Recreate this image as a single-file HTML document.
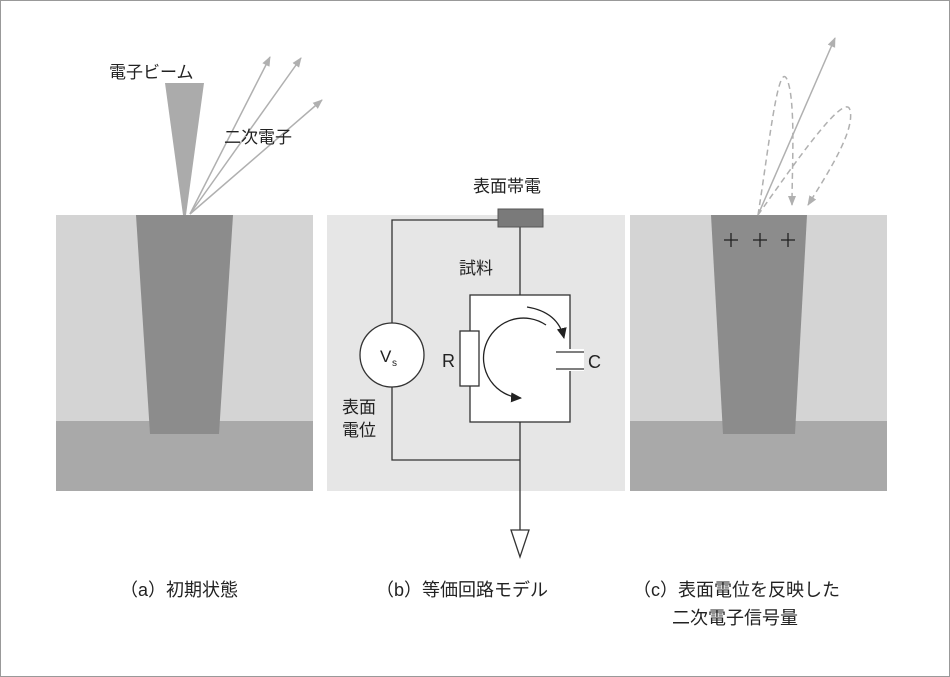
<!DOCTYPE html>
<html><head><meta charset="utf-8"><style>
html,body{margin:0;padding:0;background:#fff}
svg{display:block}
text{font-family:"Liberation Sans","Noto Sans CJK JP",sans-serif;fill:#222}
</style></head><body>
<svg width="950" height="677" viewBox="0 0 950 677" xmlns="http://www.w3.org/2000/svg">
<defs>
<marker id="ag" markerWidth="10" markerHeight="10" refX="9" refY="5" orient="auto" markerUnits="userSpaceOnUse"><path d="M0,1 L10,5 L0,9 Z" fill="#b0b0b0"/></marker>
<marker id="ak" markerWidth="12" markerHeight="12" refX="10" refY="6" orient="auto" markerUnits="userSpaceOnUse"><path d="M0,1 L11,6 L0,11 Z" fill="#222"/></marker>
</defs>
<rect x="0.5" y="0.5" width="949" height="676" fill="#fff" stroke="#999"/>
<!-- panel a -->
<rect x="56" y="215" width="257" height="206" fill="#d4d4d4"/>
<rect x="56" y="421" width="257" height="70" fill="#a9a9a9"/>
<polygon points="136,215 233,215 219,434 150,434" fill="#8c8c8c"/>
<polygon points="165,83 204,83 186,215 183,215" fill="#ababab"/>
<g stroke="#b0b0b0" stroke-width="1.5" fill="none">
<line x1="190" y1="214" x2="270" y2="57" marker-end="url(#ag)"/>
<line x1="190" y1="214" x2="301" y2="58" marker-end="url(#ag)"/>
<line x1="190" y1="214" x2="322" y2="100" marker-end="url(#ag)"/>
</g>
<text x="109" y="78" font-size="17">電子ビーム</text>
<text x="224" y="143" font-size="17">二次電子</text>
<!-- panel b -->
<rect x="327" y="215" width="298" height="276" fill="#e6e6e6"/>
<g stroke="#333" stroke-width="1.3" fill="none">
<polyline points="498,220 392,220 392,323"/>
<polyline points="392,387 392,460 520,460"/>
<line x1="520" y1="227" x2="520" y2="295"/>
<rect x="470" y="295" width="100" height="127" fill="#fff"/>
<line x1="520" y1="422" x2="520" y2="530"/>
<polygon points="511,530 529,530 520,557" fill="#fff"/>
<circle cx="392" cy="355" r="32" fill="#fff"/>
<rect x="460" y="331" width="19" height="55" fill="#fff"/>
<rect x="556" y="349" width="28" height="22" fill="#fff" stroke="none"/>
<line x1="556" y1="352" x2="584" y2="352"/>
<line x1="556" y1="369" x2="584" y2="369"/>
<path d="M546,325 A40,40 0 1 0 521,398" stroke="#222" marker-end="url(#ak)"/>
<path d="M527,307 Q558,312 564,338" stroke="#222" marker-end="url(#ak)"/>
</g>
<rect x="498" y="209" width="45" height="18" fill="#7a7a7a" stroke="#555"/>
<text x="473" y="192" font-size="17">表面帯電</text>
<text x="459" y="274" font-size="17">試料</text>
<text x="380" y="362" font-size="17">V</text><text x="392" y="366" font-size="10">s</text>
<text x="442" y="367" font-size="18">R</text>
<text x="588" y="368" font-size="18">C</text>
<text x="342" y="413" font-size="17">表面</text>
<text x="342" y="436" font-size="17">電位</text>
<!-- panel c -->
<rect x="630" y="215" width="257" height="206" fill="#d4d4d4"/>
<rect x="630" y="421" width="257" height="70" fill="#a9a9a9"/>
<polygon points="711,215 807,215 795,434 723,434" fill="#8c8c8c"/>
<g stroke="#222" stroke-width="1.3">
<line x1="724" y1="240" x2="738" y2="240"/><line x1="731" y1="233" x2="731" y2="247"/>
<line x1="753" y1="240" x2="767" y2="240"/><line x1="760" y1="233" x2="760" y2="247"/>
<line x1="781" y1="240" x2="795" y2="240"/><line x1="788" y1="233" x2="788" y2="247"/>
</g>
<g stroke="#b0b0b0" stroke-width="1.5" fill="none">
<line x1="758" y1="215" x2="835" y2="38" marker-end="url(#ag)"/>
<path d="M758,215 C770,140 780,40 790,90 C795,120 792,170 792,205" stroke-dasharray="6,4" marker-end="url(#ag)"/>
<path d="M758,215 C790,170 845,90 850,110 C855,130 830,170 808,205" stroke-dasharray="6,4" marker-end="url(#ag)"/>
</g>
<!-- captions -->
<text x="120" y="596" font-size="18">（a）初期状態</text>
<text x="376" y="596" font-size="18">（b）等価回路モデル</text>
<text x="633" y="596" font-size="18">（c）表面電位を反映した</text>
<text x="672" y="624" font-size="18">二次電子信号量</text>
</svg>
</body></html>
